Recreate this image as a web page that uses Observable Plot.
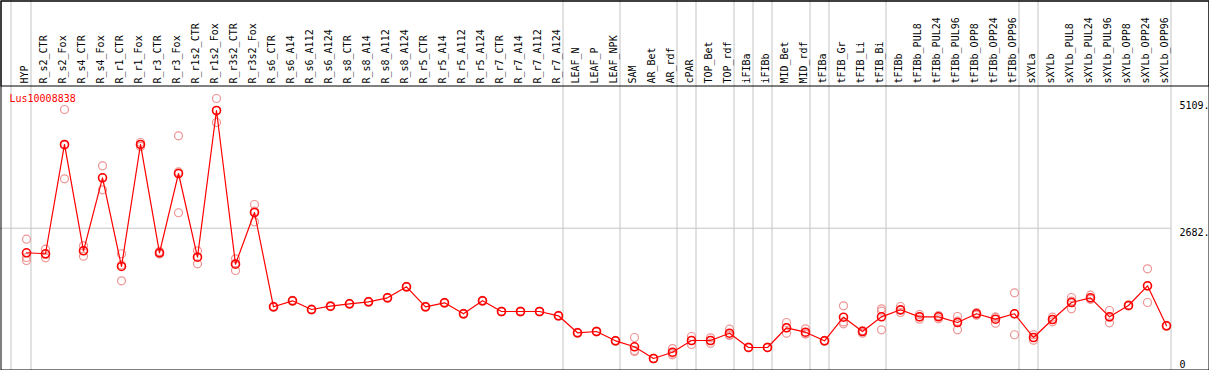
<!DOCTYPE html>
<html><head><meta charset="utf-8">
<script src="https://cdn.jsdelivr.net/npm/d3@7"></script>
<script src="https://cdn.jsdelivr.net/npm/@observablehq/plot@0.6"></script>
<style>body{margin:0;background:#fff} svg{display:block}</style>
</head><body><div id="chart"></div>
<script>
const gene = "Lus10008838";
const categories = ["HYP","R_s2_CTR","R_s2_Fox","R_s4_CTR","R_s4_Fox","R_r1_CTR","R_r1_Fox","R_r3_CTR","R_r3_Fox","R_r1s2_CTR","R_r1s2_Fox","R_r3s2_CTR","R_r3s2_Fox","R_s6_CTR","R_s6_A14","R_s6_A112","R_s6_A124","R_s8_CTR","R_s8_A14","R_s8_A112","R_s8_A124","R_r5_CTR","R_r5_A14","R_r5_A112","R_r5_A124","R_r7_CTR","R_r7_A14","R_r7_A112","R_r7_A124","LEAF_N","LEAF_P","LEAF_NPK","SAM","AR_Bet","AR_rdf","cPAR","TOP_Bet","TOP_rdf","iFIBa","iFIBb","MID_Bet","MID_rdf","tFIBa","tFIB_Gr","tFIB_Li","tFIB_Bi","tFIBb","tFIBb_PUL8","tFIBb_PUL24","tFIBb_PUL96","tFIBb_OPP8","tFIBb_OPP24","tFIBb_OPP96","sXYLa","sXYLb","sXYLb_PUL8","sXYLb_PUL24","sXYLb_PUL96","sXYLb_OPP8","sXYLb_OPP24","sXYLb_OPP96"];
const means = [2214,2195,4277,2252,3642,1953,4277,2214,3724,2130,4924,1996,2981,1185,1299,1133,1196,1242,1280,1356,1566,1185,1261,1052,1299,1095,1095,1095,1013,690,714,537,423,200,320,543,543,682,410,410,785,701,537,987,714,994,1128,994,994,886,1052,949,1052,600,943,1267,1356,994,1210,1585,823];
const rep1 = [2473,2282,4943,2347,3871,2195,4315,2240,4442,2252,5153,2099,3134,1195,1310,1140,1205,1250,1290,1365,1575,1195,1270,1060,1310,1100,1102,1100,1020,698,720,545,600,205,270,619,594,758,415,415,886,766,545,1204,733,1147,1191,1038,1019,1000,1076,987,1452,652,987,1362,1406,1114,1220,1909,830];
const rep2 = [2124,2118,3623,2149,3414,1680,4239,2190,2976,2004,4696,1876,2804,1175,1290,1125,1188,1235,1270,1348,1558,1176,1252,1045,1290,1090,1088,1090,1006,682,708,530,352,195,300,467,491,638,405,405,682,671,530,861,682,1101,1076,949,956,747,1025,872,652,549,899,1147,1330,880,1200,1267,816];
const rep3 = [2067,2181,4263,2257,3642,1983,4277,2214,3755,2134,4924,2014,3006,1185,1298,1134,1196,1242,1281,1356,1566,1185,1262,1052,1298,1095,1095,1095,1013,690,714,537,333,200,390,543,543,650,410,410,787,667,537,896,727,747,1117,995,1007,911,1055,988,1052,600,943,1292,1332,988,1210,1580,823];
const groupEnds = ["HYP","R_r7_A124","LEAF_NPK","AR_rdf","cPAR","TOP_rdf","iFIBa","iFIBb","MID_rdf","tFIBa","tFIB_Bi","tFIBb_OPP96","sXYLa","sXYLb_OPP96"];
const gridValues = [2682];
const yTicks = [5109, 2682];
const yTickLabels = ["5109.", "2682."];
const yZero = [0];
const yZeroLabel = ["0"];

const meanData = categories.map((c, i) => ({category: c, value: means[i]}));
const repData = categories.flatMap((c, i) => [rep1[i], rep2[i], rep3[i]].map(v => ({category: c, value: v})));
const tickData = yTicks.map((v, i) => ({value: v, label: yTickLabels[i]}));
const zeroData = yZero.map((v, i) => ({value: v, label: yZeroLabel[i]}));

const grid = "#c4c4c4";
const chart = Plot.plot({
  width: 1209, height: 370,
  marginTop: 0, marginRight: 0, marginBottom: 0, marginLeft: 0,
  style: {fontFamily: "'DejaVu Sans Mono', monospace", fontSize: "10px", background: "white", color: "black", overflow: "visible"},
  x: {type: "point", domain: categories, range: [26, 1166], padding: 0, axis: null},
  y: {domain: [0, 5109], range: [368.5, 100.3], axis: null},
  marks: [
    Plot.ruleY(gridValues, {stroke: grid, strokeWidth: 1, insetRight: 38.5}),
    Plot.ruleX(groupEnds, {x: d => d, dx: 4.5, stroke: grid, strokeWidth: 1}),
    Plot.ruleX([categories[0]], {x: d => d, dx: -15.5, stroke: grid, strokeWidth: 1}),
    Plot.frame({stroke: "black", inset: 0.5}),
    Plot.frame({stroke: "black", insetTop: 0.5, insetLeft: 0.5, insetRight: 0.5, insetBottom: 284.5}),
    Plot.text(categories, {x: d => d, frameAnchor: "top", dy: 83, dx: -1.5, rotate: -90, textAnchor: "start", lineAnchor: "middle", fill: "black"}),
    Plot.text(tickData, {y: "value", text: "label", frameAnchor: "right", dx: -30, textAnchor: "start", lineAnchor: "top", dy: 1, fill: "black"}),
    Plot.text(zeroData, {y: "value", text: "label", frameAnchor: "right", dx: -30, textAnchor: "start", lineAnchor: "bottom", dy: -1, fill: "black"}),
    Plot.text([gene], {frameAnchor: "top-left", dx: 9, dy: 94, textAnchor: "start", lineAnchor: "top", fill: "red"}),
    Plot.dot(repData, {x: "category", y: "value", r: 4, stroke: "#ee9494", strokeWidth: 1.2, fill: "none"}),
    Plot.line(meanData, {x: "category", y: "value", stroke: "red", strokeWidth: 1.2}),
    Plot.dot(meanData, {x: "category", y: "value", r: 4, stroke: "red", strokeWidth: 1.6, fill: "none"})
  ]
});
document.getElementById("chart").appendChild(chart);
</script></body></html>
